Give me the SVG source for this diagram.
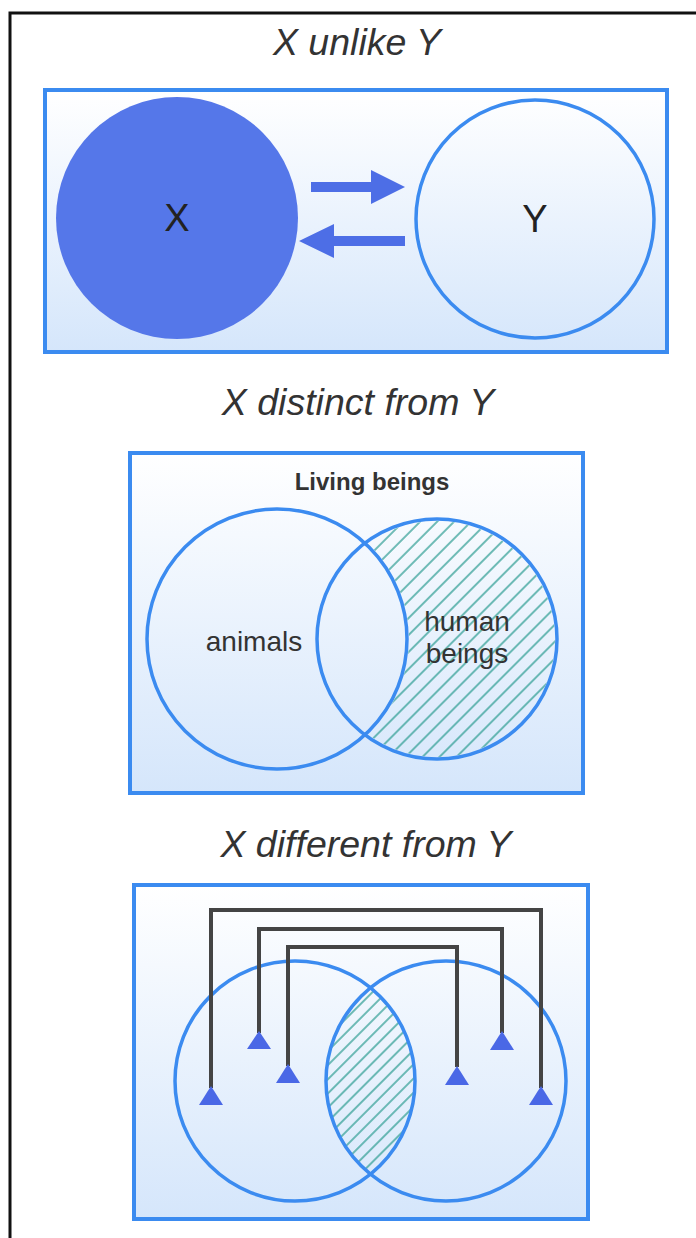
<svg xmlns="http://www.w3.org/2000/svg" width="696" height="1238" viewBox="0 0 696 1238">
  <defs>
    <style>
      .title { font-family: "Liberation Sans", Arial, sans-serif; font-style: italic; font-size: 37.5px; fill: #333333; text-anchor: middle; }
      .label { font-family: "Liberation Sans", Arial, sans-serif; font-size: 28px; fill: #333333; text-anchor: middle; }
      .big { font-family: "Liberation Sans", Arial, sans-serif; font-size: 38px; fill: #222222; text-anchor: middle; }
      .panel { fill: url(#panelFill); stroke: #3b8bf0; stroke-width: 4; }
      .ring { fill: none; stroke: #3b8bf0; stroke-width: 3.5; }
      .link { fill: none; stroke: #444444; stroke-width: 4; stroke-linejoin: miter; }
      .tip { fill: #4a68e6; }
      .arrow { fill: #4d6ee6; }
    </style>
    <linearGradient id="panelFill" x1="0" y1="0" x2="0" y2="1">
      <stop offset="0" stop-color="#ffffff"/>
      <stop offset="1" stop-color="#d5e6fb"/>
    </linearGradient>
    <pattern id="hatch" patternUnits="userSpaceOnUse" width="12" height="12" patternTransform="rotate(-45)">
      <line x1="0" y1="6" x2="12" y2="6" stroke="#34a096" stroke-width="1.4"/>
    </pattern>
    <pattern id="hatchFine" patternUnits="userSpaceOnUse" width="10" height="10" patternTransform="rotate(-45)">
      <line x1="0" y1="5" x2="10" y2="5" stroke="#34a096" stroke-width="1.4"/>
    </pattern>
    <!-- right-hand crescent: right circle minus left circle -->
    <mask id="crescent" maskUnits="userSpaceOnUse" x="0" y="0" width="696" height="1238">
      <circle cx="437" cy="639" r="118" fill="#ffffff"/>
      <circle cx="277" cy="639" r="132" fill="#000000"/>
    </mask>
    <clipPath id="leftDisc">
      <circle cx="295" cy="1081" r="120"/>
    </clipPath>
  </defs>

  <!-- outer frame -->
  <rect x="10" y="13" width="720" height="1260" fill="#ffffff" stroke="#111111" stroke-width="3"/>

  <!-- section 1: X unlike Y -->
  <text class="title" x="357" y="55">X unlike Y</text>
  <g id="panel-unlike">
    <rect class="panel" x="45" y="90" width="622" height="262"/>
  </g>
  <g id="node-x">
    <circle cx="177" cy="218" r="121" fill="#5577e9"/>
    <text class="big" x="177" y="231">X</text>
  </g>
  <g id="node-y">
    <circle class="ring" cx="535" cy="219" r="119"/>
    <text class="big" x="535" y="232">Y</text>
  </g>
  <g id="connectors-unlike">
    <path class="arrow" d="M 311 182 H 371 V 170 L 405 187 L 371 204 V 192 H 311 Z"/>
    <path class="arrow" d="M 405 236 H 334 V 224 L 299 241 L 334 258 V 246 H 405 Z"/>
  </g>

  <!-- section 2: X distinct from Y -->
  <text class="title" x="358" y="415">X distinct from Y</text>
  <g id="panel-distinct">
    <rect class="panel" x="130" y="453" width="453" height="340"/>
    <text x="372" y="490" font-family="Liberation Sans, Arial, sans-serif" font-weight="bold" font-size="24" fill="#333333" text-anchor="middle">Living beings</text>
  </g>
  <g id="node-human-beings">
    <rect x="300" y="500" width="280" height="280" fill="url(#hatch)" mask="url(#crescent)"/>
    <circle class="ring" cx="437" cy="639" r="120"/>
    <text class="label" x="467" y="631">human</text>
    <text class="label" x="467" y="663">beings</text>
  </g>
  <g id="node-animals">
    <circle class="ring" cx="277" cy="639" r="130"/>
    <text class="label" x="254" y="651">animals</text>
  </g>

  <!-- section 3: X different from Y -->
  <text class="title" x="366" y="857">X different from Y</text>
  <g id="panel-different">
    <rect class="panel" x="134" y="885" width="454" height="334"/>
  </g>
  <g id="node-overlap">
    <circle cx="446" cy="1081" r="120" fill="url(#hatchFine)" clip-path="url(#leftDisc)"/>
  </g>
  <g id="node-left-set">
    <circle class="ring" cx="295" cy="1081" r="120"/>
  </g>
  <g id="node-right-set">
    <circle class="ring" cx="446" cy="1081" r="120"/>
  </g>
  <g id="connectors-different">
    <polyline class="link" points="211,1088 211,910 541,910 541,1088"/>
    <polyline class="link" points="259,1033 259,929 502,929 502,1033"/>
    <polyline class="link" points="288,1066 288,947 457,947 457,1067"/>
  </g>
  <g id="markers-different">
    <polygon class="tip" points="211,1086 199,1105 223,1105"/>
    <polygon class="tip" points="259,1031 247,1049 271,1049"/>
    <polygon class="tip" points="288,1064 276,1083 300,1083"/>
    <polygon class="tip" points="457,1066 445,1085 469,1085"/>
    <polygon class="tip" points="502,1031 490,1050 514,1050"/>
    <polygon class="tip" points="541,1086 529,1105 553,1105"/>
  </g>
</svg>
